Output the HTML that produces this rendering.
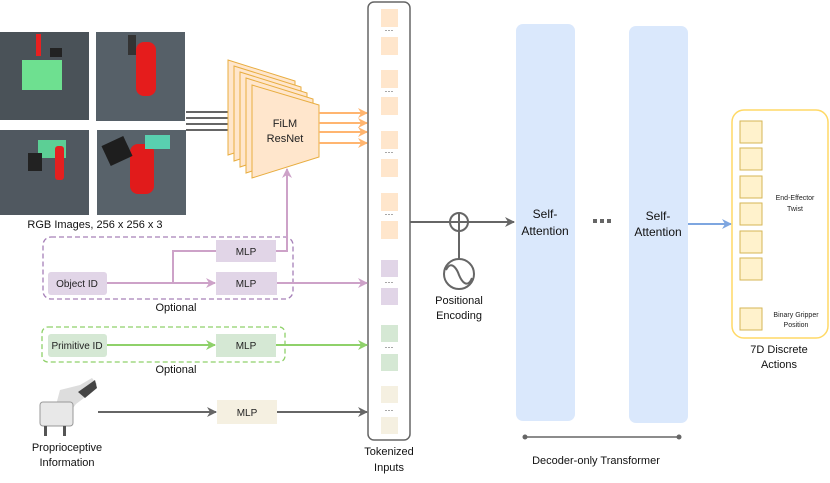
<!DOCTYPE html>
<html><head><meta charset="utf-8"><style>
body{margin:0;background:#fff}
svg{display:block;font-family:"Liberation Sans",sans-serif}
</style></head><body>
<svg width="830" height="483" viewBox="0 0 830 483" xmlns="http://www.w3.org/2000/svg">
<defs>
<marker id="ag" markerWidth="10" markerHeight="10" refX="9" refY="5" orient="auto" markerUnits="userSpaceOnUse"><path d="M0,0 L10,5 L0,10 L3,5 z" fill="#666"/></marker>
<marker id="ao" markerWidth="10" markerHeight="10" refX="9" refY="5" orient="auto" markerUnits="userSpaceOnUse"><path d="M0,0 L10,5 L0,10 L3,5 z" fill="#ffb570"/></marker>
<marker id="ap" markerWidth="10" markerHeight="10" refX="9" refY="5" orient="auto" markerUnits="userSpaceOnUse"><path d="M0,0 L10,5 L0,10 L3,5 z" fill="#cda2c8"/></marker>
<marker id="agr" markerWidth="10" markerHeight="10" refX="9" refY="5" orient="auto" markerUnits="userSpaceOnUse"><path d="M0,0 L10,5 L0,10 L3,5 z" fill="#8fd16a"/></marker>
<marker id="ab" markerWidth="10" markerHeight="10" refX="9" refY="5" orient="auto" markerUnits="userSpaceOnUse"><path d="M0,0 L10,5 L0,10 L3,5 z" fill="#7ea6e0"/></marker>
</defs>
<!-- images -->
<rect x="0" y="32" width="89" height="88" fill="#4a5258"/>
<rect x="22" y="60" width="40" height="30" fill="#6ee090"/>
<rect x="36" y="34" width="5" height="22" fill="#e82020"/>
<rect x="50" y="48" width="12" height="9" fill="#222"/>
<rect x="96" y="32" width="89" height="89" fill="#566068"/>
<rect x="136" y="42" width="20" height="54" rx="8" fill="#e51c1c"/>
<rect x="128" y="35" width="8" height="20" fill="#333"/>
<rect x="0" y="130" width="89" height="85" fill="#505860"/>
<rect x="38" y="140" width="28" height="18" fill="#5ccf95"/>
<rect x="55" y="146" width="9" height="34" rx="3" fill="#e52020"/>
<rect x="28" y="153" width="14" height="18" fill="#222"/>
<rect x="97" y="130" width="89" height="85" fill="#58626a"/>
<rect x="130" y="144" width="24" height="50" rx="8" fill="#e11b1b"/>
<rect x="105" y="140" width="24" height="22" fill="#1e1e1e" transform="rotate(-25 117 151)"/>
<rect x="145" y="135" width="25" height="14" fill="#59d0b0"/>
<text x="95" y="228" font-size="11" text-anchor="middle" fill="#111">RGB Images, 256 x 256 x 3</text>
<!-- gray lines into FiLM -->
<g stroke="#666" stroke-width="2" fill="none">
<line x1="186" y1="112" x2="228" y2="112"/>
<line x1="186" y1="118" x2="234" y2="118"/>
<line x1="186" y1="124" x2="246" y2="124"/>
<line x1="186" y1="130" x2="251" y2="130" marker-end="url(#ag)"/>
</g>
<!-- FiLM stack -->
<g fill="#ffe6cc" stroke="#e8ad40" stroke-width="1">
<path d="M228,60 L295,81 L295,133 L228,155 z"/>
<path d="M234,66 L301,87 L301,139 L234,161 z"/>
<path d="M240,72 L307,93 L307,145 L240,167 z"/>
<path d="M246,78 L313,99 L313,151 L246,173 z"/>
<path d="M252,85 L319,105 L319,157 L252,178 z"/>
</g>
<text x="285" y="127" font-size="11" text-anchor="middle" fill="#222">FiLM</text>
<text x="285" y="142" font-size="11" text-anchor="middle" fill="#222">ResNet</text>
<g stroke="#ffb570" stroke-width="2" fill="none">
<line x1="319" y1="113" x2="367" y2="113" marker-end="url(#ao)"/>
<line x1="319" y1="123" x2="367" y2="123" marker-end="url(#ao)"/>
<line x1="319" y1="132" x2="367" y2="132" marker-end="url(#ao)"/>
<line x1="319" y1="143" x2="367" y2="143" marker-end="url(#ao)"/>
</g>
<!-- token column -->
<rect x="368" y="2" width="42" height="438" rx="6" fill="#fff" stroke="#666" stroke-width="1.5"/>
<g fill="#ffe6cc">
<rect x="381" y="9" width="17" height="18"/><rect x="381" y="37" width="17" height="18"/>
<rect x="381" y="70" width="17" height="18"/><rect x="381" y="97" width="17" height="18"/>
<rect x="381" y="131" width="17" height="18"/><rect x="381" y="159" width="17" height="18"/>
<rect x="381" y="193" width="17" height="18"/><rect x="381" y="221" width="17" height="18"/>
</g>
<g fill="#e1d5e7"><rect x="381" y="260" width="17" height="17"/><rect x="381" y="288" width="17" height="17"/></g>
<g fill="#d5e8d4"><rect x="381" y="325" width="17" height="17"/><rect x="381" y="354" width="17" height="17"/></g>
<g fill="#f5f0e1"><rect x="381" y="386" width="17" height="17"/><rect x="381" y="417" width="17" height="17"/></g>
<g font-size="9" text-anchor="middle" fill="#333">
<text x="389" y="33">···</text><text x="389" y="94">···</text><text x="389" y="155">···</text><text x="389" y="217">···</text>
<text x="389" y="285">···</text><text x="389" y="350">···</text><text x="389" y="413">···</text>
</g>
<text x="389" y="455" font-size="11" text-anchor="middle" fill="#111">Tokenized</text>
<text x="389" y="471" font-size="11" text-anchor="middle" fill="#111">Inputs</text>
<!-- purple -->
<rect x="43" y="237" width="250" height="62" rx="8" fill="none" stroke="#a680b8" stroke-width="1.3" stroke-dasharray="5,3"/>
<rect x="48" y="272" width="59" height="23" rx="3" fill="#e1d5e7"/>
<text x="77" y="287" font-size="10" text-anchor="middle" fill="#222">Object ID</text>
<rect x="216" y="240" width="60" height="22" fill="#e1d5e7"/>
<rect x="216" y="272" width="61" height="23" fill="#e1d5e7"/>
<text x="246" y="255" font-size="10" text-anchor="middle" fill="#222">MLP</text>
<text x="246" y="287" font-size="10" text-anchor="middle" fill="#222">MLP</text>
<g stroke="#cda2c8" stroke-width="2" fill="none">
<line x1="107" y1="283" x2="215" y2="283" marker-end="url(#ap)"/>
<polyline points="173,283 173,251 216,251"/>
<polyline points="276,251 287,251 287,169" marker-end="url(#ap)"/>
<line x1="277" y1="283" x2="367" y2="283" marker-end="url(#ap)"/>
</g>
<text x="176" y="311" font-size="11" text-anchor="middle" fill="#111">Optional</text>
<!-- green -->
<rect x="42" y="327" width="243" height="35" rx="6" fill="none" stroke="#8fd16a" stroke-width="1.3" stroke-dasharray="5,3"/>
<rect x="48" y="334" width="59" height="23" rx="3" fill="#d5e8d4"/>
<text x="77" y="349" font-size="10" text-anchor="middle" fill="#222">Primitive ID</text>
<rect x="216" y="334" width="60" height="23" fill="#d5e8d4"/>
<text x="246" y="349" font-size="10" text-anchor="middle" fill="#222">MLP</text>
<g stroke="#8fd16a" stroke-width="2" fill="none">
<line x1="107" y1="345" x2="215" y2="345" marker-end="url(#agr)"/>
<line x1="276" y1="345" x2="367" y2="345" marker-end="url(#agr)"/>
</g>
<text x="176" y="373" font-size="11" text-anchor="middle" fill="#111">Optional</text>
<!-- proprio -->
<g>
<path d="M60,390 L80,385 L92,378 L97,384 L88,395 L76,404 L70,412 L56,405 z" fill="#ddd"/>
<path d="M78,392 L95,380 L97,388 L85,398 z" fill="#444"/>
<rect x="40" y="402" width="33" height="24" rx="3" fill="#e8e8e8" stroke="#999"/>
<rect x="44" y="426" width="3" height="10" fill="#555"/><rect x="63" y="426" width="3" height="10" fill="#555"/>
</g>
<text x="67" y="451" font-size="11" text-anchor="middle" fill="#111">Proprioceptive</text>
<text x="67" y="466" font-size="11" text-anchor="middle" fill="#111">Information</text>
<rect x="217" y="400" width="60" height="24" fill="#f5f0e1"/>
<text x="247" y="416" font-size="10" text-anchor="middle" fill="#222">MLP</text>
<g stroke="#666" stroke-width="2" fill="none">
<line x1="98" y1="412" x2="216" y2="412" marker-end="url(#ag)"/>
<line x1="277" y1="412" x2="367" y2="412" marker-end="url(#ag)"/>
</g>
<!-- positional encoding -->
<g stroke="#666" stroke-width="2" fill="none">
<line x1="410" y1="222" x2="514" y2="222" marker-end="url(#ag)"/>
<circle cx="459" cy="222" r="9" fill="#fff"/>
<line x1="450" y1="222" x2="468" y2="222"/><line x1="459" y1="213" x2="459" y2="231"/>
<line x1="459" y1="231" x2="459" y2="259"/>
<circle cx="459" cy="274" r="15" fill="#fff"/>
<path d="M446,270 C452,258 458,272 459,275 C461,280 467,290 472,278"/>
</g>
<text x="459" y="304" font-size="11" text-anchor="middle" fill="#111">Positional</text>
<text x="459" y="319" font-size="11" text-anchor="middle" fill="#111">Encoding</text>
<!-- transformer -->
<rect x="516" y="24" width="59" height="397" rx="7" fill="#dae8fc"/>
<rect x="629" y="26" width="59" height="397" rx="7" fill="#dae8fc"/>
<g font-size="12" text-anchor="middle" fill="#111">
<text x="545" y="218">Self-</text><text x="545" y="235">Attention</text>
<text x="658" y="220">Self-</text><text x="658" y="236">Attention</text>
</g>
<g fill="#666"><rect x="593" y="219" width="4" height="4"/><rect x="600" y="219" width="4" height="4"/><rect x="607" y="219" width="4" height="4"/></g>
<line x1="688" y1="224" x2="731" y2="224" stroke="#7ea6e0" stroke-width="2" marker-end="url(#ab)"/>
<g stroke="#666" stroke-width="1.5"><line x1="525" y1="437" x2="679" y2="437"/></g>
<circle cx="525" cy="437" r="2.5" fill="#666"/><circle cx="679" cy="437" r="2.5" fill="#666"/>
<text x="596" y="464" font-size="11" text-anchor="middle" fill="#111">Decoder-only Transformer</text>
<!-- actions -->
<rect x="732" y="110" width="96" height="228" rx="12" fill="#fff" stroke="#ffd966" stroke-width="1.5"/>
<g fill="#fff2cc" stroke="#d6b656" stroke-width="1">
<rect x="740" y="121" width="22" height="22"/><rect x="740" y="148" width="22" height="22"/>
<rect x="740" y="176" width="22" height="22"/><rect x="740" y="203" width="22" height="22"/>
<rect x="740" y="231" width="22" height="22"/><rect x="740" y="258" width="22" height="22"/>
<rect x="740" y="308" width="22" height="22"/>
</g>
<g font-size="7" text-anchor="middle" fill="#222">
<text x="795" y="200">End-Effector</text><text x="795" y="211">Twist</text>
<text x="796" y="317">Binary Gripper</text><text x="796" y="327">Position</text>
</g>
<text x="779" y="353" font-size="11" text-anchor="middle" fill="#111">7D Discrete</text>
<text x="779" y="368" font-size="11" text-anchor="middle" fill="#111">Actions</text>
</svg>
</body></html>
